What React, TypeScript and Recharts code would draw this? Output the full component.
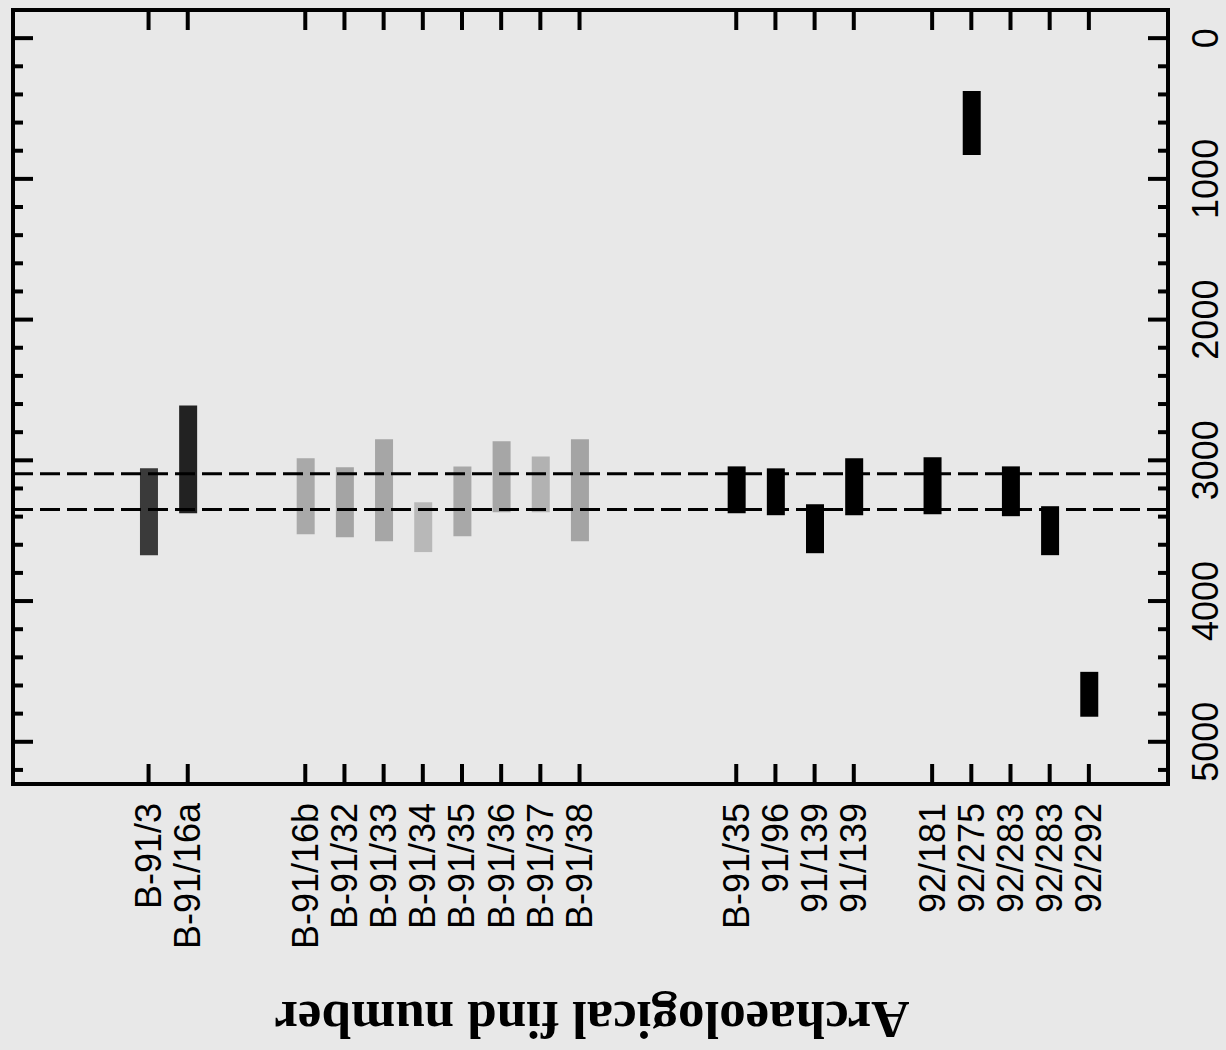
import React from 'react'
import {
  ComposedChart,
  Bar,
  Line,
  Cell,
  XAxis,
  YAxis,
  ReferenceLine,
} from 'recharts'

// ── Data ─────────────────────────────────────────────────────────────

// find numbers, left to right
const FIND_LABELS = [
  'B-91/3', 'B-91/16a',
  'B-91/16b', 'B-91/32', 'B-91/33', 'B-91/34', 'B-91/35', 'B-91/36', 'B-91/37', 'B-91/38',
  'B-91/35', '91/96', '91/139', '91/139',
  '92/181', '92/275', '92/283', '92/283', '92/292',
]

// slot index on the category axis (gaps between the groups are empty slots)
const FIND_SLOTS = [0, 1, 4, 5, 6, 7, 8, 9, 10, 11, 15, 16, 17, 18, 20, 21, 22, 23, 24]

// range of each find (lower and upper value)
const RANGE_LOW = [
  3057, 2610,
  2986, 3050, 2851, 3298, 3043, 2865, 2972, 2851,
  3043, 3057, 3312, 2986,
  2979, 376, 3043, 3326, 4503,
]
const RANGE_HIGH = [
  3674, 3376,
  3525, 3546, 3575, 3652, 3539, 3369, 3369, 3575,
  3376, 3390, 3660, 3390,
  3383, 831, 3397, 3674, 4822,
]

// shade of each bar
const BAR_FILLS = [
  '#3a3a3a', '#222222',
  '#a9a9a9', '#a4a4a4', '#a6a6a6', '#b8b8b8', '#a8a8a8', '#a6a6a6', '#b2b2b2', '#a4a4a4',
  '#000000', '#000000', '#000000', '#000000',
  '#000000', '#000000', '#000000', '#000000', '#000000',
]

// dashed reference band
const BAND_LINES = [3095, 3350]

// value axis
const Y_DOMAIN: [number, number] = [-200, 5300]
const Y_TICKS = Array.from({ length: 27 }, (_, i) => i * 200)

const rows = FIND_SLOTS.map((slot, i) => ({
  slot,
  label: FIND_LABELS[i],
  range: [RANGE_LOW[i], RANGE_HIGH[i]],
  mid: (RANGE_LOW[i] + RANGE_HIGH[i]) / 2,
}))

// page has no reset, drop the body margin and paint the paper tone
document.body.style.margin = '0'
document.body.style.background = '#e8e8e8'

// ── Frame geometry ───────────────────────────────────────────────────
// plot box edges (svg sits at 0,0 so these are page pixels)

const W = 1226
const H = 1050
const PLOT_LEFT = 13
const PLOT_RIGHT = 1168
const PLOT_TOP = 10
const PLOT_BOTTOM = 784

// ── Tick renderers ───────────────────────────────────────────────────
// ticks point into the box; only the along-axis coordinate is taken from recharts

const FONT = '"Liberation Sans", Arial, Helvetica, sans-serif'
const AXIS = { stroke: '#000', strokeWidth: 4, strokeLinecap: 'square' as const }

function BottomTick({ x, payload }: any) {
  const idx = FIND_SLOTS.indexOf(payload.value)
  return (
    <g>
      <line x1={x} y1={PLOT_BOTTOM} x2={x} y2={PLOT_BOTTOM - 20} stroke="#000" strokeWidth={4} />
      <text
        transform={`translate(${x},${PLOT_BOTTOM + 19}) rotate(-90)`}
        textAnchor="end"
        dominantBaseline="central"
        fontFamily={FONT}
        fontSize={36}
        fill="#000"
      >
        {idx >= 0 ? FIND_LABELS[idx] : ''}
      </text>
    </g>
  )
}

function TopTick({ x }: any) {
  return <line x1={x} y1={PLOT_TOP} x2={x} y2={PLOT_TOP + 20} stroke="#000" strokeWidth={4} />
}

function LeftTick({ y, payload }: any) {
  const len = payload.value % 1000 === 0 ? 20 : 10
  return <line x1={PLOT_LEFT} y1={y} x2={PLOT_LEFT + len} y2={y} stroke="#000" strokeWidth={4} />
}

function RightTick({ y, payload }: any) {
  const major = payload.value % 1000 === 0
  const len = major ? 20 : 10
  return (
    <g>
      <line x1={PLOT_RIGHT} y1={y} x2={PLOT_RIGHT - len} y2={y} stroke="#000" strokeWidth={4} />
      {major && (
        <text
          transform={`translate(${PLOT_RIGHT + 37},${y}) rotate(-90)`}
          textAnchor="middle"
          dominantBaseline="central"
          fontFamily={FONT}
          fontSize={36}
          fill="#000"
        >
          {payload.value}
        </text>
      )}
    </g>
  )
}

// ── Component ────────────────────────────────────────────────────────

export default function App() {
  const xDomain: [number, number] = [-3.46, 26.02]

  return (
    <div style={{ position: 'relative', width: W, height: H }}>
      <ComposedChart
        width={W}
        height={H}
        data={rows}
        margin={{
          top: PLOT_TOP - 1,
          right: W - PLOT_RIGHT - 1,
          bottom: H - PLOT_BOTTOM - 1,
          left: PLOT_LEFT - 1,
        }}
      >
        <XAxis
          xAxisId="b"
          type="number"
          dataKey="slot"
          orientation="bottom"
          domain={xDomain}
          allowDataOverflow
          ticks={FIND_SLOTS}
          interval={0}
          height={1}
          tickSize={0}
          tickMargin={0}
          tickLine={false}
          axisLine={AXIS}
          tick={<BottomTick />}
        />
        <XAxis
          xAxisId="t"
          type="number"
          dataKey="slot"
          orientation="top"
          domain={xDomain}
          allowDataOverflow
          ticks={FIND_SLOTS}
          interval={0}
          height={1}
          tickSize={0}
          tickMargin={0}
          tickLine={false}
          axisLine={AXIS}
          tick={<TopTick />}
        />
        <YAxis
          yAxisId="l"
          type="number"
          orientation="left"
          domain={Y_DOMAIN}
          allowDataOverflow
          reversed
          ticks={Y_TICKS}
          interval={0}
          width={1}
          tickSize={0}
          tickMargin={0}
          tickLine={false}
          axisLine={AXIS}
          tick={<LeftTick />}
        />
        <YAxis
          yAxisId="r"
          type="number"
          orientation="right"
          domain={Y_DOMAIN}
          allowDataOverflow
          reversed
          ticks={Y_TICKS}
          interval={0}
          width={1}
          tickSize={0}
          tickMargin={0}
          tickLine={false}
          axisLine={AXIS}
          tick={<RightTick />}
        />

        {BAND_LINES.map((v) => (
          <ReferenceLine
            key={v}
            xAxisId="b"
            yAxisId="l"
            y={v}
            stroke="#000"
            strokeWidth={3}
            strokeDasharray="20 7"
          />
        ))}

        <Bar
          xAxisId="b"
          yAxisId="l"
          dataKey="range"
          barSize={18}
          isAnimationActive={false}
        >
          {rows.map((r, i) => (
            <Cell key={i} fill={BAR_FILLS[i]} />
          ))}
        </Bar>

        {/* invisible series so the top/right axes have something bound */}
        <Line
          xAxisId="t"
          yAxisId="r"
          dataKey="mid"
          stroke="none"
          dot={false}
          activeDot={false}
          legendType="none"
          isAnimationActive={false}
        />
      </ComposedChart>

      <div style={{
        position: 'absolute',
        left: 592,
        top: 1020,
        transform: 'translate(-50%, -50%) rotate(180deg)',
        fontFamily: '"Liberation Serif", "Times New Roman", serif',
        fontWeight: 'bold',
        fontSize: 53,
        whiteSpace: 'nowrap',
        color: '#000',
      }}>
        Archaeological find number
      </div>
    </div>
  )
}
